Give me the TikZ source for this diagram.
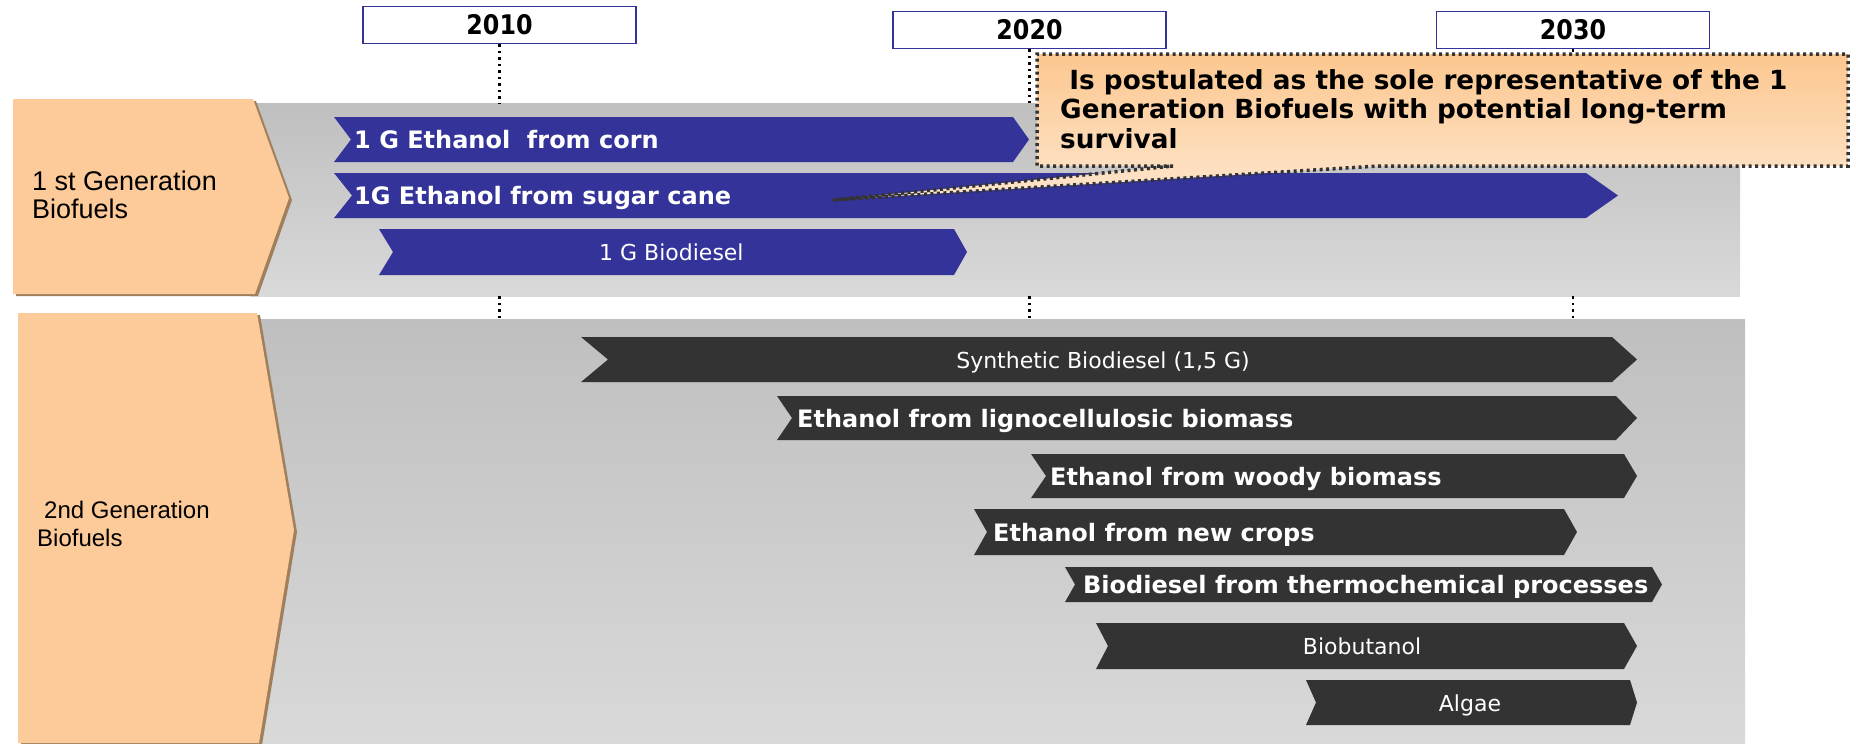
\documentclass[tikz,border=0pt]{standalone}
\usepackage{fontspec}
\usepackage{graphicx}
\newfontfamily\dvs{DejaVu Sans}
\newfontfamily\lib{Liberation Sans}
\definecolor{blueA}{HTML}{333399}
\definecolor{darkA}{HTML}{333333}
\definecolor{orangeA}{RGB}{253,203,153}
\definecolor{shadowA}{RGB}{160,128,92}
\definecolor{grayTop}{RGB}{191,191,191}
\definecolor{grayBot}{RGB}{217,217,217}
\definecolor{calTop}{RGB}{252,199,143}
\definecolor{calBot}{RGB}{254,230,206}
\newcommand\mychev[7]{\fill[#1] (#2,#5) -- (#3,#5) -- (#4,{(#5+#6)/2}) -- (#3,#6) -- (#2,#6) -- ({#2+#7},{(#5+#6)/2}) -- cycle;}
\tikzset{
  panel/.style={rectangle, inner sep=0, anchor=north west, top color=grayTop, bottom color=grayBot, draw=none},
  yearbox/.style={rectangle, draw=blueA, line width=1.6pt, fill=white, inner sep=0, minimum width=273pt, minimum height=37pt, font=\dvs\bfseries\fontsize{27}{30}\selectfont},
  yearline/.style={draw=black, line width=2.5pt, dash pattern=on 2.5pt off 4pt},
  blab/.style={text=white, font=\dvs\bfseries\fontsize{24}{28}\selectfont, inner sep=0, anchor=base west},
  rlab/.style={text=white, font=\dvs\fontsize{22}{26}\selectfont, inner sep=0, anchor=base},
  genlab/.style={text=black, inner sep=0, anchor=base west},
  callab/.style={text=black, font=\dvs\bfseries\fontsize{26.3}{30}\selectfont, inner sep=0, anchor=base west},
  calborder/.style={draw=darkA, line width=3.5pt, dash pattern=on 3pt off 3.5pt}
}
\begin{document}
\begin{tikzpicture}[x=1pt,y=-1pt]
\useasboundingbox (0,0) rectangle (1856,744);
% panels
\node[panel, minimum width=1490pt, minimum height=193pt] (p1) at (250,103) {};
\node[panel, minimum width=1490pt, minimum height=425pt] (p2) at (255,319) {};
% orange generation boxes
\fill[shadowA] (16,101) -- (256,101) -- (292,200) -- (258,296) -- (16,296) -- cycle;
\fill[orangeA] (13,99) -- (253,99) -- (289,198) -- (255,294) -- (13,294) -- cycle;
\fill[shadowA] (21,315) -- (260,315) -- (297,532) -- (262,745) -- (21,745) -- cycle;
\fill[orangeA] (18,313) -- (257,313) -- (294,530) -- (259,743) -- (18,743) -- cycle;
\node[genlab, font=\lib\fontsize{27}{30}\selectfont] (g1a) at (32,190) {1 st Generation};
\node[genlab, font=\lib\fontsize{27}{30}\selectfont] (g1b) at (32,218) {Biofuels};
\node[genlab, font=\lib\fontsize{24}{28}\selectfont] (g2a) at (44,518) {2nd Generation};
\node[genlab, font=\lib\fontsize{24}{28}\selectfont] (g2b) at (37,546) {Biofuels};
% 1st generation arrows
\mychev{blueA}{334}{1013}{1029}{117}{162}{17}
\mychev{blueA}{334}{1586}{1618}{173}{218}{18}
\mychev{blueA}{379}{954}{967}{229}{275}{14}
\node[blab] (a1) at (354,148) {1 G Ethanol\ \ from corn};
\node[blab] (a2) at (354,204) {1G Ethanol from sugar cane};
\node[rlab, anchor=base west] (a3) at (599,260) {1 G Biodiesel};
% 2nd generation arrows
\mychev{darkA}{581}{1612}{1637}{337}{382}{27}
\mychev{darkA}{777}{1616}{1637}{396}{440}{15}
\mychev{darkA}{1031}{1624}{1637}{454}{498}{15}
\mychev{darkA}{974}{1564}{1577}{509}{555}{13}
\mychev{darkA}{1065}{1652}{1662}{567}{602}{10}
\mychev{darkA}{1096}{1624}{1637}{623}{669}{12}
\mychev{darkA}{1306}{1630}{1637}{680}{725}{10}
\node[rlab] (b1) at (1103,368) {Synthetic Biodiesel (1,5 G)};
\node[blab] (b2) at (797,427) {Ethanol from lignocellulosic biomass};
\node[blab] (b3) at (1050,485) {Ethanol from woody biomass};
\node[blab] (b4) at (993,541) {Ethanol from new crops};
\node[blab] (b5) at (1083,593) {Biodiesel from thermochemical processes};
\node[rlab] (b6) at (1362,654) {Biobutanol};
\node[rlab] (b7) at (1470,711) {Algae};
% year boxes
\node[yearbox] (y2010) at (499.5,25) {\scalebox{0.88}[1]{2010}};
\node[yearbox] (y2020) at (1029.5,30) {\scalebox{0.88}[1]{2020}};
\node[yearbox] (y2030) at (1573,30) {\scalebox{0.88}[1]{2030}};
% dotted year lines
\foreach \y in {y2010,y2020,y2030}{
  \draw[yearline] (\y.south) -- (\y.south |- p1.north);
  \draw[yearline] (\y.south |- p1.south) -- (\y.south |- p2.north);
}
% callout
\coordinate (ctip) at (833,200);
\path[top color=calTop, bottom color=calBot, calborder]
  (1173,166) -- (1037,166) -- (1037,54) -- (1848,54) -- (1848,166) -- (1378,166) -- (ctip) -- cycle;
\node[callab] (c1) at (1060,89) {\ Is postulated as the sole representative of the 1};
\node[callab] (c2) at (1060,118) {Generation Biofuels with potential long-term};
\node[callab] (c3) at (1060,148) {survival};
\end{tikzpicture}
\end{document}
